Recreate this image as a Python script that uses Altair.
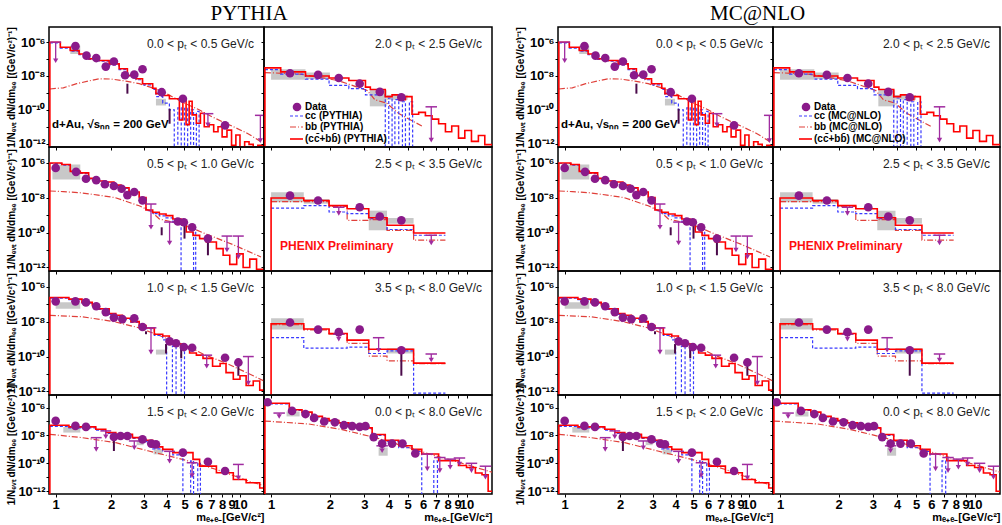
import altair as alt
import pandas as pd

FONT = "Liberation Sans"
SERIF = "Liberation Serif"
FLOOR = 1e-14
XDOM = [0.92, 13.5]
YDOM = [6.3e-13, 7.9e-6]
X_TICKS = [1, 2, 3, 4, 5, 6, 7, 8, 9, 10]
Y_TICKS = [1e-12, 1e-11, 1e-10, 1e-9, 1e-8, 1e-7, 1e-6]

C_DATA = "#8a1a8a"
C_UL = "#a02ca0"
C_ERR = "#4a0a4a"
C_BOX = "#c8c8c8"
C_CC = "#3a3aff"
C_BB = "#e0403a"
C_TOT = "#ff0000"

# ---------------- panel A : 0.0 < pT < 0.5 ----------------
A_PTS_M = [1.28, 1.47, 1.66, 1.87, 2.07, 2.38, 2.67, 2.96, 3.76, 4.9, 8.3]
A_PTS_V = [5.8e-7, 1.6e-7, 1.15e-7, 3.6e-8, 7.2e-8, 1.1e-8, 1.2e-8, 2.5e-8, 1.1e-9, 4.5e-10, 1.2e-11]
A_ERR_M = [2.45, 4.15]
A_ERR_LO = [9e-10, 1.5e-11]
A_ERR_HI = [3.5e-9, 1.15e-10]
A_UL_M = [1.0, 6.7, 12.9]
A_UL_TOP = [1.0e-6, 5.9e-11, 4.7e-11]
A_UL_TIP = [8e-8, 1.3e-11, 1.5e-12]
A_BOX_M1 = [1.2, 3.5]
A_BOX_M2 = [1.36, 3.97]
A_BOX_LO = [2e-7, 1.8e-10]
A_BOX_HI = [6.3e-7, 4.5e-10]
A_TOT_E = [0.93, 1.06, 1.20, 1.34, 1.51, 1.72, 1.95, 2.21, 2.45, 2.73, 2.96, 3.36, 3.50, 3.81, 4.14, 4.69,
           4.9, 5.1, 5.3, 5.5, 5.8, 6.1, 6.4, 6.8, 7.2, 7.6, 8.0, 8.5, 9.0, 9.5, 10.0, 10.6, 11.2, 11.8, 12.5, 13.5]
A_TOT_V = [1e-6, 5e-7, 3.2e-7, 2e-7, 1.05e-7, 8.3e-8, 5.2e-8, 2.7e-8, 1.07e-8, 6.8e-9, 3.5e-9, 1.9e-9, 8.9e-10,
           7e-10, 4.5e-10, 2.5e-11, 4e-10, 1.3e-11, 3.2e-10, 5e-11, 1.6e-11, 6.3e-11, 1e-11, 1.3e-11, 5e-12,
           1e-11, 2.5e-12, 6.3e-12, 8e-13, 3.2e-12, 4e-13, 1.3e-12, 9e-13, 5e-13, 8e-13]
A_CC_E = [0.93, 1.06, 1.20, 1.34, 1.51, 1.72, 1.95, 2.21, 2.45, 2.73, 2.96, 3.36, 3.50, 3.81, 4.14, 4.4, 4.6,
          4.8, 5.0, 5.2, 5.4, 5.6, 5.8, 6.0, 13.5]
A_CC_V = [9e-7, 4.5e-7, 2.9e-7, 1.8e-7, 9.5e-8, 7.5e-8, 4.6e-8, 2.4e-8, 9.5e-9, 6e-9, 3e-9, 1.6e-9, 6e-10,
          2.5e-10, 1e-10, 1e-14, 1.3e-10, 1e-14, 1.2e-10, 1e-14, 1e-10, 1e-14, 8e-11, 1e-14]
A_BB_M = [0.93, 1.1, 1.3, 1.5, 1.72, 2.0, 2.4, 2.84, 3.5, 4.0, 4.5, 5.0, 6.0, 7.0, 8.0, 9.2, 11.0, 13.0]
A_BB_V = [1.7e-9, 2e-9, 3.5e-9, 5e-9, 6.8e-9, 6.6e-9, 5e-9, 3.5e-9, 1.7e-9, 8.9e-10, 4.5e-10, 2.5e-10, 1e-10,
          4e-11, 2e-11, 1e-11, 4e-12, 1.3e-12]

# ---------------- panel B : 0.5 < pT < 1.0 ----------------
B_PTS_M = [1.0, 1.29, 1.46, 1.66, 1.85, 2.07, 2.28, 2.45, 2.67, 2.96, 4.6, 4.96, 5.5, 6.7]
B_PTS_V = [5e-7, 3e-7, 1.2e-7, 1e-7, 5.8e-8, 4.6e-8, 3.2e-8, 1.4e-8, 2.1e-8, 7e-9, 4.3e-10, 3.9e-10, 2e-10, 4.5e-11]
B_ERR_M = [3.76, 5.0, 6.7]
B_ERR_LO = [7e-11, 4.5e-11, 5e-12]
B_ERR_HI = [2e-10, 3.2e-10, 4.5e-11]
B_UL_M = [3.29, 4.15, 8.5, 9.8]
B_UL_TOP = [4.3e-9, 4e-10, 6.3e-11, 6.3e-11]
B_UL_TIP = [2e-10, 2.5e-11, 1e-11, 4e-12]
B_BOX_M1 = [0.96]
B_BOX_M2 = [1.36]
B_BOX_LO = [1.1e-7]
B_BOX_HI = [7.8e-7]
B_TOT_E = [0.93, 1.08, 1.20, 1.36, 1.51, 1.68, 1.87, 2.07, 2.26, 2.50, 2.84, 3.09, 3.36, 3.65, 3.97, 4.32,
           4.79, 5.11, 5.56, 6.04, 6.57, 7.45, 8.1, 8.8, 9.6, 10.4, 11.3, 12.3, 13.5]
B_TOT_V = [9.5e-7, 7.8e-7, 3.2e-7, 2.6e-7, 1.26e-7, 8.9e-8, 7.8e-8, 5.2e-8, 3.7e-8, 2.1e-8, 1e-8, 1.95e-9,
           1.45e-9, 1.15e-9, 9.3e-10, 6e-10, 3.9e-10, 1.07e-10, 6.9e-11, 4.5e-11, 2.9e-11, 1.2e-11, 5e-12,
           1.5e-12, 6e-12, 1e-12, 3e-12, 8e-13]
B_CC_E = [0.93, 1.08, 1.20, 1.36, 1.51, 1.68, 1.87, 2.07, 2.26, 2.50, 2.84, 3.09, 3.36, 3.65, 3.97, 4.32,
          4.79, 5.6, 5.75, 5.9, 13.5]
B_CC_V = [9e-7, 7.3e-7, 3e-7, 2.4e-7, 1.2e-7, 8.4e-8, 7.3e-8, 4.9e-8, 3.4e-8, 1.9e-8, 9e-9, 1.8e-9, 1.2e-9,
          9e-10, 7e-10, 4e-10, 1e-14, 1.5e-10, 1e-14, 1e-14]
B_BB_M = [0.93, 1.1, 1.36, 1.7, 2.1, 2.84, 3.3, 3.65, 4.3, 5.1, 6.6, 9.2, 13.0]
B_BB_V = [2.4e-8, 2.2e-8, 1.9e-8, 1.4e-8, 1e-8, 3.4e-9, 1.6e-9, 6e-10, 4e-10, 2.5e-10, 8e-11, 2e-11, 4e-12]

# ---------------- panel C : 1.0 < pT < 1.5 ----------------
C_PTS_M = [1.0, 1.28, 1.46, 1.66, 1.87, 2.07, 2.3, 2.67, 2.96, 4.15, 4.5, 4.96, 5.5, 8.3, 9.8]
C_PTS_V = [1.45e-7, 1.45e-7, 1.26e-7, 7.6e-8, 3.5e-8, 1.7e-8, 1.4e-8, 1.55e-8, 4.9e-9, 7.4e-10, 5.8e-10,
           3.5e-10, 3.2e-10, 8.5e-11, 4.6e-11]
C_ERR_M = [3.09, 3.97, 4.8, 9.8]
C_ERR_LO = [1.9e-9, 1.5e-10, 8e-11, 8e-12]
C_ERR_HI = [2.8e-9, 5.2e-10, 3.5e-10, 4.2e-11]
C_UL_M = [3.29, 6.6, 11.1]
C_UL_TOP = [4.4e-9, 1.2e-10, 1e-10]
C_UL_TIP = [1.8e-10, 2.8e-11, 3e-12]
C_BOX_M1 = [1.0, 3.5]
C_BOX_M2 = [1.36, 3.97]
C_BOX_LO = [5.5e-8, 1.3e-10]
C_BOX_HI = [1.3e-7, 2.5e-10]
C_TOT_E = [0.93, 1.18, 1.39, 1.58, 1.72, 1.95, 2.12, 2.30, 2.56, 2.84, 3.09, 3.43, 3.81, 4.14, 4.5, 4.9,
           5.33, 5.8, 6.3, 7.1, 7.8, 8.4, 9.2, 10.0, 10.8, 11.8, 12.8, 13.5]
C_TOT_V = [2.4e-7, 1.95e-7, 1.26e-7, 9.1e-8, 5.5e-8, 2.9e-8, 2.3e-8, 1.55e-8, 1e-8, 6e-9, 4.4e-9, 1.9e-9,
           1.5e-9, 7.9e-10, 5.2e-10, 3.5e-10, 1.6e-10, 1.2e-10, 7.9e-11, 2.8e-11, 4e-11, 1.2e-11, 5e-12,
           8e-12, 2.2e-12, 4e-12, 1.2e-12]
C_CC_E = [0.93, 1.18, 1.39, 1.58, 1.72, 1.95, 2.12, 2.30, 2.56, 2.84, 3.09, 3.43, 3.81, 4.0, 4.3, 4.5, 4.8,
          5.0, 5.2, 13.5]
C_CC_V = [2.2e-7, 1.8e-7, 1.15e-7, 8.3e-8, 5e-8, 2.6e-8, 2.1e-8, 1.4e-8, 9e-9, 5.4e-9, 4e-9, 1.6e-9, 9e-10,
          1e-14, 4e-10, 1e-14, 3e-10, 1e-14, 1e-14]
C_BB_M = [0.93, 1.39, 2.07, 2.84, 3.5, 4.3, 5.3, 6.5, 8.4, 11.8, 13.5]
C_BB_V = [2.3e-8, 1.9e-8, 1e-8, 4.4e-9, 1.9e-9, 7.9e-10, 3.5e-10, 1.2e-10, 4.2e-11, 8e-12, 4e-12]

# ---------------- panel D : 1.5 < pT < 2.0 ----------------
D_PTS_M = [1.0, 1.28, 1.46, 2.07, 2.25, 2.45, 2.96, 3.3, 3.5, 4.9, 6.7, 8.3]
D_PTS_V = [1.1e-7, 4.8e-8, 4.1e-8, 7.8e-9, 9.1e-9, 9.1e-9, 5.2e-9, 2.6e-9, 2.3e-9, 5.8e-10, 1.3e-10, 2.8e-11]
D_ERR_M = [2.07]
D_ERR_LO = [7.6e-10]
D_ERR_HI = [4e-9]
D_UL_M = [1.66, 1.87, 2.67, 4.15, 5.5, 9.8]
D_UL_TOP = [6.9e-9, 2.1e-8, 4e-9, 7.2e-10, 1.1e-10, 8.3e-11]
D_UL_TIP = [1e-9, 8e-9, 1.3e-9, 1.4e-10, 1.3e-11, 9e-12]
D_BOX_M1 = [1.1, 2.75, 3.4]
D_BOX_M2 = [1.36, 3.0, 3.8]
D_BOX_LO = [1.6e-8, 2e-9, 4.4e-10]
D_BOX_HI = [4e-8, 4e-9, 1e-9]
D_TOT_E = [0.93, 1.18, 1.65, 1.87, 2.12, 2.61, 2.96, 3.36, 3.81, 4.32, 5.56, 6.04, 7.45, 9.2, 10.8, 12.8, 13.5]
D_TOT_V = [5.4e-8, 4.1e-8, 2.75e-8, 1.6e-8, 1.2e-8, 6.9e-9, 4.5e-9, 1.5e-9, 1e-9, 5.8e-10, 1.9e-10, 6.3e-11,
           2.1e-11, 6.9e-12, 4e-12, 1.7e-12]
D_CC_E = [0.93, 1.18, 1.65, 1.87, 2.12, 2.61, 2.96, 3.36, 3.81, 4.32, 4.9, 5.4, 5.6, 5.9, 6.1, 13.5]
D_CC_V = [4.5e-8, 3.5e-8, 2.4e-8, 1.4e-8, 1.05e-8, 6e-9, 3.6e-9, 1.1e-9, 7e-10, 4e-10, 1e-14, 1.5e-10, 1e-14,
          1e-10, 1e-14]
D_BB_M = [0.93, 1.39, 2.12, 3.2, 4.9, 7.45, 11.3, 13.5]
D_BB_V = [1.2e-8, 6.9e-9, 3e-9, 7.6e-10, 1.9e-10, 3.6e-11, 5e-12, 2.5e-12]

# ---------------- panel E : 2.0 < pT < 2.5 ----------------
E_PTS_M = [1.25, 1.74, 2.22, 2.84, 3.6, 4.64]
E_PTS_V = [1.45e-8, 1.17e-8, 7.6e-9, 3.5e-9, 1.15e-9, 5.5e-10]
E_ERR_M = []
E_ERR_LO = []
E_ERR_HI = []
E_UL_M = [6.6]
E_UL_TOP = [1.5e-10]
E_UL_TIP = [1.6e-12]
E_BOX_M1 = [1.0, 1.5, 3.2, 3.9]
E_BOX_M2 = [1.5, 2.0, 3.9, 5.0]
E_BOX_LO = [5.9e-9, 6.6e-9, 1.6e-10, 3.9e-10]
E_BOX_HI = [2.5e-8, 1.6e-8, 1.45e-9, 7.6e-10]
E_TOT_E = [0.93, 1.12, 1.50, 1.98, 2.50, 3.04, 3.22, 3.84, 4.16, 4.50, 4.87, 5.26, 5.69, 6.16, 6.66, 7.2,
           7.8, 8.4, 9.1, 9.8, 10.6, 11.5, 12.4, 13.5]
E_TOT_V = [3e-8, 1.74e-8, 1e-8, 7.6e-9, 5.4e-9, 2.2e-9, 1.6e-9, 6e-10, 7.6e-10, 3.9e-10, 6e-10, 5.5e-11,
           7e-11, 4.4e-11, 2.8e-11, 1.5e-11, 5e-12, 1.1e-11, 2.1e-12, 6e-12, 1.35e-12, 3e-12, 8.7e-13]
E_CC_E = [0.93, 1.12, 1.50, 1.98, 2.50, 3.04, 3.84, 4.0, 4.16, 4.3, 4.5, 4.7, 4.87, 5.1, 5.3, 13.5]
E_CC_V = [2.4e-8, 1.3e-8, 6.6e-9, 2.8e-9, 1.8e-9, 7.6e-10, 1e-14, 5e-10, 1e-14, 4e-10, 1e-14, 3e-10, 1e-14,
          3e-10, 1e-14]
E_BB_M = [0.93, 1.4, 2.2, 3.1, 3.4, 3.9, 4.5, 6.0]
E_BB_V = [1.6e-8, 1.3e-8, 5.4e-9, 1.4e-9, 3.9e-10, 2.5e-10, 6e-11, 1e-11]

# ---------------- panel F : 2.5 < pT < 3.5 ----------------
F_PTS_M = [1.25, 1.74, 2.84, 3.6, 4.64]
F_PTS_V = [1.3e-8, 6.8e-9, 2.8e-9, 8.3e-10, 5e-10]
F_ERR_M = []
F_ERR_LO = []
F_ERR_HI = []
F_UL_M = [2.22, 6.6]
F_UL_TOP = [2.8e-9, 7e-11]
F_UL_TIP = [1.26e-9, 2.5e-11]
F_BOX_M1 = [1.0, 1.47, 3.16, 3.92]
F_BOX_M2 = [1.47, 1.98, 3.92, 5.36]
F_BOX_LO = [5.5e-9, 4.4e-9, 1.35e-10, 3.2e-10]
F_BOX_HI = [2e-8, 8.3e-9, 1.8e-9, 6.8e-10]
F_TOT_E = [1.0, 1.47, 1.98, 2.45, 3.16, 3.92, 5.36, 7.8]
F_TOT_V = [9.5e-9, 6.8e-9, 3.5e-9, 2.3e-9, 7e-10, 2.6e-10, 9.5e-11]
F_CC_E = [1.0, 1.47, 1.98, 2.45, 3.16, 3.92, 5.36, 7.8]
F_CC_V = [2.5e-9, 3.5e-9, 1.5e-9, 1.2e-9, 6.2e-10, 1.5e-10, 7e-11]
F_BB_M = [1.0, 1.47, 1.98, 2.45, 3.16, 3.92, 5.36, 7.8]
F_BB_V = [5.9e-9, 5.9e-9, 3.1e-9, 5e-10, 5.5e-10, 1.35e-10, 3.7e-11]

# ---------------- panel G : 3.5 < pT < 8.0 ----------------
G_PTS_M = [1.25, 1.74, 2.22, 2.84, 4.64]
G_PTS_V = [8.9e-9, 3.5e-9, 2.5e-9, 3.5e-9, 2.3e-10]
G_ERR_M = [4.64]
G_ERR_LO = [8e-12]
G_ERR_HI = [2.3e-10]
G_UL_M = [2.22, 3.55, 6.6]
G_UL_TOP = [1.9e-9, 1.2e-9, 1.4e-10]
G_UL_TIP = [1e-9, 2.3e-10, 6.3e-11]
G_BOX_M1 = [1.0, 3.92]
G_BOX_M2 = [1.47, 5.36]
G_BOX_LO = [3.5e-9, 1.5e-10]
G_BOX_HI = [1.55e-8, 3e-10]
G_TOT_E = [1.0, 1.47, 1.98, 2.45, 3.16, 5.36, 7.8]
G_TOT_V = [7.6e-9, 3.8e-9, 2.1e-9, 8.7e-10, 2.6e-10, 4.2e-11]
G_CC_E = [1.0, 1.47, 2.45, 3.16, 3.92, 5.36, 7.8]
G_CC_V = [1.2e-9, 3e-10, 3.5e-10, 1.5e-10, 2.1e-10, 8e-13]
G_BB_M = [1.0, 1.47, 1.98, 2.45, 3.16, 3.92, 5.36, 7.8]
G_BB_V = [6.6e-9, 3.4e-9, 1.9e-9, 5.7e-10, 1.07e-10, 5.6e-11, 3.9e-11]

# ---------------- panel H : 0.0 < pT < 8.0 ----------------
H_PTS_M = [0.96, 1.28, 1.5, 1.66, 1.87, 2.12, 2.36, 2.6, 2.84, 3.04, 3.35, 3.7, 4.16, 4.7, 5.47]
H_PTS_V = [2.4e-6, 5.8e-7, 3.4e-7, 1.8e-7, 1e-7, 8.7e-8, 5.4e-8, 4.6e-8, 4.1e-8, 4.6e-8, 7.6e-9, 2.6e-9,
           2.6e-9, 2.6e-9, 5.1e-10]
H_ERR_M = []
H_ERR_LO = []
H_ERR_HI = []
H_UL_M = [1.1, 3.7, 6.3, 7.3, 8.25, 9.2, 10.6, 12.5]
H_UL_TOP = [4e-7, 1.8e-9, 4.6e-10, 2.6e-10, 2e-10, 2.4e-10, 1e-10, 6.2e-11]
H_UL_TIP = [2.3e-7, 8e-10, 4e-11, 3e-11, 5.2e-11, 8.9e-11, 3e-11, 1e-11]
H_BOX_M1 = [1.2, 3.55]
H_BOX_M2 = [1.4, 3.95]
H_BOX_LO = [2.3e-7, 3.5e-10]
H_BOX_HI = [5.2e-7, 1.35e-9]
H_TOT_E = [0.93, 1.24, 1.44, 1.62, 1.83, 1.98, 2.22, 2.5, 2.81, 3.29, 3.84, 4.5, 5.26, 5.9, 7.2, 9.1, 10.0,
           11.1, 12.0, 12.9, 13.5]
H_TOT_V = [2e-6, 6.9e-7, 4.7e-7, 2.3e-7, 1.6e-7, 1.15e-7, 7.9e-8, 5.4e-8, 3.5e-8, 1.17e-8, 4.5e-9, 1.8e-9,
           1e-9, 4.6e-10, 1.55e-10, 6.9e-11, 5e-11, 2e-11, 1.5e-11, 1e-12]
H_CC_E = [0.93, 1.24, 1.44, 1.62, 1.83, 1.98, 2.22, 2.5, 2.81, 3.29, 3.84, 4.5, 5.26, 5.9, 6.8, 7.1, 13.5]
H_CC_V = [1.8e-6, 6.2e-7, 4.2e-7, 2.1e-7, 1.45e-7, 1.05e-7, 7e-8, 4.8e-8, 3.1e-8, 1e-8, 3.5e-9, 1.3e-9,
          7e-10, 1e-14, 1.5e-10, 1e-14]
H_BB_M = [0.93, 1.0, 1.56, 2.31, 3.42, 5.06, 6.9, 9.1, 13.5]
H_BB_V = [1.05e-7, 1e-7, 6.6e-8, 2.6e-8, 6.9e-9, 1.35e-9, 3.5e-10, 1.2e-10, 2.3e-11]

PT_LABELS = {
    "A": "0.0 < pₜ < 0.5 GeV/c", "B": "0.5 < pₜ < 1.0 GeV/c", "C": "1.0 < pₜ < 1.5 GeV/c",
    "D": "1.5 < pₜ < 2.0 GeV/c", "E": "2.0 < pₜ < 2.5 GeV/c", "F": "2.5 < pₜ < 3.5 GeV/c",
    "G": "3.5 < pₜ < 8.0 GeV/c", "H": "0.0 < pₜ < 8.0 GeV/c",
}
BB_STEP = {"F", "G"}
TOT_FLOOR = {"A", "B", "C", "D", "E", "F", "G", "H"}
G_ = globals()
GRID = [("A", "E"), ("B", "F"), ("C", "G"), ("D", "H")]
ROW_H = [120, 124, 124, 99]

YEXPR = ("round(log(datum.value)/LN10) == -6 ? '10⁻⁶' : round(log(datum.value)/LN10) == -8 ? '10⁻⁸' : "
         "round(log(datum.value)/LN10) == -10 ? '10⁻¹⁰' : round(log(datum.value)/LN10) == -12 ? '10⁻¹²' : ''")
YTITLE = "1/Nₑᵥₜ dN/dmₑₑ [(GeV/c²)⁻¹]"
XTITLE = "mₑ₊ₑ₋[GeV/c²]"


def step_df(edges, vals, floor_start):
    xs = list(edges)
    ys = list(vals) + [vals[-1]]
    if floor_start:
        xs = [edges[0]] + xs
        ys = [FLOOR] + ys
    return pd.DataFrame({"m": xs, "v": ys, "o": list(range(len(xs)))})


def panel(key, col, row, model, width):
    h = ROW_H[row]
    bottom = row == 3
    left = col == 0
    xa = dict(values=X_TICKS, ticks=True, tickSize=3, tickColor="black", domain=False, grid=False,
              labels=bottom)
    if bottom:
        xa.update(labelExpr="datum.value + ''", labelFont=FONT, labelFontSize=13, labelFontWeight="bold",
                  labelColor="black", labelPadding=1, labelOverlap=False, labelFlush=False,
                  title=XTITLE, titleFont=FONT, titleFontSize=11, titleFontWeight="bold",
                  titleColor="black", titleAnchor="end", titlePadding=0)
    else:
        xa.update(title=None)
    ya = dict(values=Y_TICKS, ticks=True, tickSize=3, tickColor="black", domain=False, grid=False,
              labels=left)
    if left:
        ya.update(labelExpr=YEXPR, labelFont=FONT, labelFontSize=13, labelFontWeight="bold",
                  labelColor="black", labelPadding=1, labelOverlap=False, labelFlush=False,
                  title=YTITLE, titleFont=FONT, titleFontSize=10, titleFontWeight="bold",
                  titleColor="black", titlePadding=1)
    else:
        ya.update(title=None)
    xs = alt.Scale(type="log", domain=XDOM, nice=False)
    ys = alt.Scale(type="log", domain=YDOM, nice=False)

    def X(f):
        return alt.X(f, type="quantitative", scale=xs, axis=alt.Axis(**xa))

    def Y(f):
        return alt.Y(f, type="quantitative", scale=ys, axis=alt.Axis(**ya))

    g = lambda n: G_[f"{key}_{n}"]
    layers = []
    if g("BOX_M1"):
        bdf = pd.DataFrame({"m1": g("BOX_M1"), "m2": g("BOX_M2"), "lo": g("BOX_LO"), "hi": g("BOX_HI")})
        layers.append(alt.Chart(bdf).mark_rect(color=C_BOX, clip=True).encode(
            x=X("m1"), x2="m2", y=Y("lo"), y2="hi"))
    if key in BB_STEP:
        bb = step_df(g("BB_M"), g("BB_V"), False)
        layers.append(alt.Chart(bb).mark_line(interpolate="step-after", clip=True, color=C_BB, strokeWidth=1.2,
                                              strokeDash=[6, 2, 1, 2]).encode(x=X("m"), y=Y("v"), order="o:Q"))
    else:
        bb = pd.DataFrame({"m": g("BB_M"), "v": g("BB_V")})
        layers.append(alt.Chart(bb).mark_line(clip=True, color=C_BB, strokeWidth=1.2,
                                              strokeDash=[6, 2, 1, 2]).encode(x=X("m"), y=Y("v")))
    cc = step_df(g("CC_E"), g("CC_V"), False)
    layers.append(alt.Chart(cc).mark_line(interpolate="step-after", clip=True, color=C_CC, strokeWidth=1.2,
                                          strokeDash=[3, 2]).encode(x=X("m"), y=Y("v"), order="o:Q"))
    tot = step_df(g("TOT_E"), g("TOT_V"), key in TOT_FLOOR)
    layers.append(alt.Chart(tot).mark_line(interpolate="step-after", clip=True, color=C_TOT,
                                           strokeWidth=1.6).encode(x=X("m"), y=Y("v"), order="o:Q"))
    if g("ERR_M"):
        edf = pd.DataFrame({"m": g("ERR_M"), "lo": g("ERR_LO"), "hi": g("ERR_HI")})
        layers.append(alt.Chart(edf).mark_rule(color=C_ERR, strokeWidth=2, clip=True).encode(
            x=X("m"), y=Y("lo"), y2="hi"))
    if g("UL_M"):
        ms = g("UL_M")
        udf = pd.DataFrame({"m": ms, "top": g("UL_TOP"), "tip": g("UL_TIP"),
                            "c1": [m / 1.07 for m in ms], "c2": [m * 1.07 for m in ms]})
        layers.append(alt.Chart(udf).mark_rule(color=C_UL, strokeWidth=1.3, clip=True).encode(
            x=X("m"), y=Y("top"), y2="tip"))
        layers.append(alt.Chart(udf).mark_rule(color=C_UL, strokeWidth=1.5, clip=True).encode(
            x=X("c1"), x2="c2", y=Y("top")))
        layers.append(alt.Chart(udf).mark_point(shape="triangle-down", filled=True, color=C_UL, size=28,
                                                opacity=1, clip=True).encode(x=X("m"), y=Y("tip")))
    pdf = pd.DataFrame({"m": g("PTS_M"), "v": g("PTS_V")})
    layers.append(alt.Chart(pdf).mark_circle(color=C_DATA, size=75, opacity=1, clip=True).encode(
        x=X("m"), y=Y("v")))
    one = pd.DataFrame({"t": [PT_LABELS[key]]})
    layers.append(alt.Chart(one).mark_text(align="right", baseline="middle", font=FONT, fontSize=12,
                                           color="#222222").encode(
        text="t:N", x=alt.value(width - 10), y=alt.value(17)))
    if key == "A":
        t = pd.DataFrame({"t": ["d+Au, √sₙₙ = 200 GeV"]})
        layers.append(alt.Chart(t).mark_text(align="left", baseline="middle", font=FONT, fontSize=11.5,
                                             fontWeight="bold", color="black").encode(
            text="t:N", x=alt.value(3), y=alt.value(98)))
    if key == "F":
        t = pd.DataFrame({"t": ["PHENIX Preliminary"]})
        layers.append(alt.Chart(t).mark_text(align="left", baseline="middle", font=FONT, fontSize=12,
                                             fontWeight="bold", color="#ff1010").encode(
            text="t:N", x=alt.value(16), y=alt.value(99)))
    if key == "E":
        d0 = pd.DataFrame({"a": [0]})
        layers.append(alt.Chart(d0).mark_circle(color=C_DATA, size=75, opacity=1).encode(
            x=alt.value(33), y=alt.value(80)))
        layers.append(alt.Chart(d0).mark_rule(color=C_CC, strokeWidth=1.2, strokeDash=[3, 2]).encode(
            x=alt.value(26), x2=alt.value(39), y=alt.value(89)))
        layers.append(alt.Chart(d0).mark_rule(color=C_BB, strokeWidth=1.2, strokeDash=[6, 2, 1, 2]).encode(
            x=alt.value(26), x2=alt.value(39), y=alt.value(100)))
        layers.append(alt.Chart(d0).mark_rule(color=C_TOT, strokeWidth=1.6).encode(
            x=alt.value(26), x2=alt.value(39), y=alt.value(112)))
        leg = pd.DataFrame({"t": ["Data", f"cc ({model})", f"bb ({model})", f"(cc̄+bb̄) ({model})"],
                            "yy": [80, 89, 100, 112]})
        layers.append(alt.Chart(leg).mark_text(align="left", baseline="middle", font=FONT, fontSize=10,
                                               fontWeight="bold", color="black").encode(
            text="t:N", x=alt.value(41), y=alt.Y("yy:Q", scale=None)))
    return alt.layer(*layers).properties(width=width, height=h)


def block(model, widths):
    cells = []
    for r, (k0, k1) in enumerate(GRID):
        cells.append(panel(k0, 0, r, model, widths[0]))
        cells.append(panel(k1, 1, r, model, widths[1]))
    return alt.concat(*cells, columns=2, spacing=0, bounds="flush",
                      title=alt.Title(model, font=SERIF, fontSize=21, fontWeight="normal", color="black",
                                      anchor="middle", offset=2))


chart = alt.hconcat(block("PYTHIA", [215, 228]), block("MC@NLO", [215, 227]), spacing=21).properties(
    padding={"left": 5, "top": 3, "right": 0, "bottom": 0}, background="white"
).configure_view(stroke="black", strokeWidth=1.5)

chart.save("out.html", embed_options={"renderer": "svg", "actions": False})
